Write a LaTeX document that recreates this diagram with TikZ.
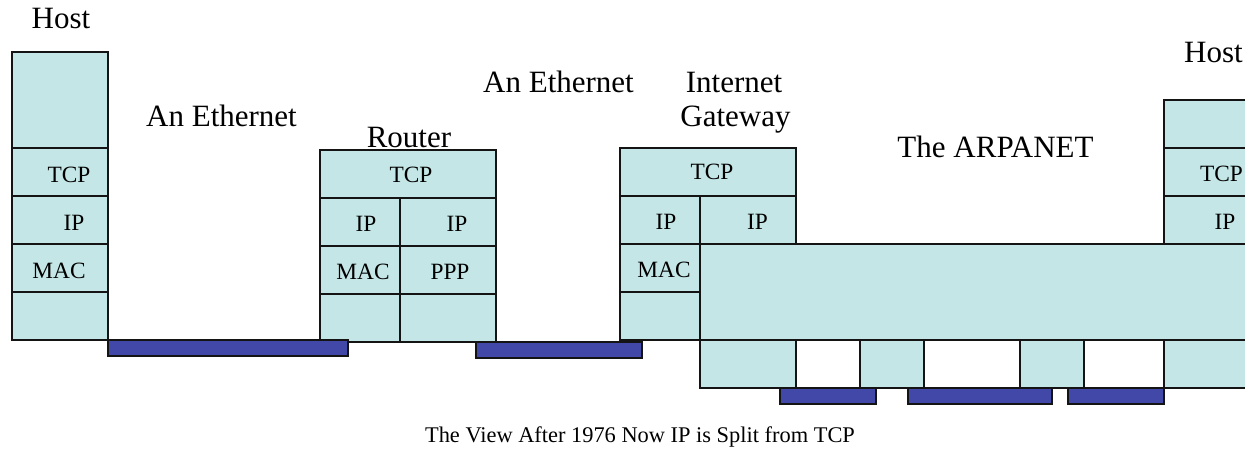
\documentclass[tikz,border=0pt]{standalone}
\usepackage{fontspec}
\setmainfont{Liberation Serif}
\definecolor{layer}{RGB}{196,230,230}
\definecolor{wire}{RGB}{66,72,168}
\definecolor{edge}{RGB}{20,20,20}
\tikzset{
  layerbox/.style={fill=layer,draw=edge,line width=1pt},
  wirebar/.style={fill=wire,draw=edge,line width=1pt},
  big/.style={font=\fontsize{23.25}{27}\selectfont,anchor=base,inner sep=0pt},
  small/.style={font=\fontsize{17.5}{21}\selectfont,anchor=base,inner sep=0pt},
  caption/.style={font=\fontsize{16.8}{20}\selectfont,anchor=base,inner sep=0pt}
}
\begin{document}
\begin{tikzpicture}[x=0.75pt,y=-0.75pt]
\useasboundingbox (0,0) rectangle (1245,449);
\clip (0,0) rectangle (1245,449);
% left host
\draw[layerbox] (12,52) rectangle (108,148);
\draw[layerbox] (12,148) rectangle (108,196);
\draw[layerbox] (12,196) rectangle (108,244);
\draw[layerbox] (12,244) rectangle (108,292);
\draw[layerbox] (12,292) rectangle (108,340);
% router
\draw[layerbox] (320,150) rectangle (496,198);
\draw[layerbox] (320,198) rectangle (400,246);
\draw[layerbox] (400,198) rectangle (496,246);
\draw[layerbox] (320,246) rectangle (400,294);
\draw[layerbox] (400,246) rectangle (496,294);
\draw[layerbox] (320,294) rectangle (400,342);
\draw[layerbox] (400,294) rectangle (496,342);
% gateway
\draw[layerbox] (620,148) rectangle (796,196);
\draw[layerbox] (620,196) rectangle (700,244);
\draw[layerbox] (700,196) rectangle (796,244);
\draw[layerbox] (620,244) rectangle (700,292);
\draw[layerbox] (620,292) rectangle (700,340);
% right host
\draw[layerbox] (1164,100) rectangle (1262,148);
\draw[layerbox] (1164,148) rectangle (1262,196);
\draw[layerbox] (1164,196) rectangle (1262,244);
% ARPANET
\draw[layerbox] (700,244) rectangle (1262,340);
\draw[layerbox] (700,340) rectangle (796,388);
\draw[layerbox] (860,340) rectangle (924,388);
\draw[layerbox] (1020,340) rectangle (1084,388);
\draw[layerbox] (1164,340) rectangle (1262,388);
% wires
\draw[wirebar] (108,340) rectangle (348,356);
\draw[wirebar] (476,342) rectangle (642,358);
\draw[wirebar] (780,388) rectangle (876,404);
\draw[wirebar] (908,388) rectangle (1052,404);
\draw[wirebar] (1068,388) rectangle (1164,404);
% titles
\node[big] (hostL) at (61,29) {Host};
\node[big] (eth1) at (221.5,127) {An Ethernet};
\node[big] (router) at (409,147) {Router};
\node[big] (eth2) at (558.5,93) {An Ethernet};
\node[big] (gw1) at (734,93) {Internet};
\node[big] (gw2) at (735.5,127) {Gateway};
\node[big] (arpa) at (995.5,157) {The ARPANET};
\node[big] (hostR) at (1213.5,62.5) {Host};
\node[caption] (cap) at (640,442) {The View After 1976 Now IP is Split from TCP};
% layer labels
\node[small] (h1tcp) at (69,182.5) {TCP};
\node[small] (h1ip) at (74,230.5) {IP};
\node[small] (h1mac) at (59,278.5) {MAC};
\node[small] (rtcp) at (411,182.5) {TCP};
\node[small] (rip1) at (366,231) {IP};
\node[small] (rip2) at (457,231) {IP};
\node[small] (rmac) at (363,279.5) {MAC};
\node[small] (rppp) at (450,279.5) {PPP};
\node[small] (gtcp) at (712,180) {TCP};
\node[small] (gip1) at (666,229.5) {IP};
\node[small] (gip2) at (757.5,229.5) {IP};
\node[small] (gmac) at (664,277.5) {MAC};
\node[small] (h2tcp) at (1221.5,181.5) {TCP};
\node[small] (h2ip) at (1225,229.5) {IP};
\end{tikzpicture}
\end{document}
